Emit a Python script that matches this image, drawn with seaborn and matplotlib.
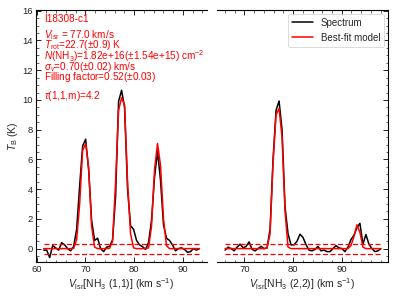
import numpy as np
import pandas as pd
import matplotlib
matplotlib.use("Agg")
import matplotlib.pyplot as plt
from matplotlib.ticker import AutoMinorLocator, MultipleLocator
import seaborn as sns

# ---------------- data ----------------
# NH3 (1,1) channel velocities (km/s): start + step
v11_start, v11_step, n11 = 61.44, 0.615, 53
T11_spec = [-0.1, -0.1, -0.6, 0.2, 0.05, -0.1, 0.4, 0.25, 0.0, -0.15,
            0.15, 1.3, 4.2, 6.9, 7.36, 5.3, 1.9, 0.55, 0.7, 0.0,
            -0.2, 0.1, 0.15, 0.6, 3.5, 9.9, 10.65, 9.5, 4.0, 1.55,
            1.3, 0.55, 0.25, 0.13, -0.05, 0.4, 1.9, 4.8, 6.55, 4.6,
            1.6, 0.7, 0.55, 0.25, -0.15, 0.0, 0.05, -0.05, -0.25, -0.2,
            0.0, -0.1, 0.0]
T11_model = [0.0, 0.0, 0.0, 0.0, 0.0, 0.0, 0.0, 0.0, 0.0, 0.0,
             0.02, 0.6, 3.0, 6.6, 7.07, 5.5, 1.5, 0.1, 0.0, 0.0,
             0.0, 0.0, 0.02, 0.5, 4.5, 9.3, 10.15, 9.65, 4.5, 1.0,
             0.05, 0.0, 0.0, 0.0, 0.0, 0.05, 1.5, 5.3, 7.07, 5.6,
             2.0, 0.2, 0.0, 0.0, 0.0, 0.0, 0.0, 0.0, 0.0, 0.0,
             0.0, 0.0, 0.0]

# NH3 (2,2)
v22_start, v22_step, n22 = 66.06, 0.615, 53
T22_spec = [-0.1, 0.1, 0.0, -0.15, 0.1, 0.3, 0.05, 0.15, 0.45, -0.05,
            -0.15, 0.0, 0.15, 0.0, 0.05, 1.3, 6.0, 9.3, 9.93, 8.0,
            2.8, 1.0, 0.25, 0.25, 0.5, 0.97, 0.75, 0.27, -0.1, -0.15,
            -0.05, 0.15, -0.15, -0.1, -0.2, -0.2, 0.0, 0.2, 0.05, 0.0,
            -0.2, 0.1, 0.6, 0.9, 1.4, 1.7, 0.3, 0.95, 0.3, 0.0,
            -0.2, -0.15, 0.0]
T22_model = [0.0, 0.0, 0.0, 0.0, 0.0, 0.0, 0.0, 0.0, 0.0, 0.0,
             0.0, 0.0, 0.0, 0.0, 0.05, 1.0, 5.8, 9.0, 9.42, 7.5,
             2.5, 0.1, 0.0, 0.0, 0.0, 0.0, 0.0, 0.0, 0.0, 0.0,
             0.0, 0.0, 0.0, 0.0, 0.0, 0.0, 0.0, 0.0, 0.0, 0.0,
             0.0, 0.0, 0.2, 0.8, 1.6, 1.1, 0.1, 0.0, 0.0, 0.0,
             0.0, 0.0, 0.0]

rms_level = 0.33

info_lines = [
    "I18308-c1",
    r"$V_{\rm lsr}$ = 77.0 km/s",
    r"$T_{\rm rot}$=22.7($\pm$0.9) K",
    r"$N$(NH$_3$)=1.82e+16($\pm$1.54e+15) cm$^{-2}$",
    r"$\sigma_v$=0.70($\pm$0.02) km/s",
    "Filling factor=0.52($\\pm$0.03)",
    r"$\tau$(1,1,m)=4.2",
]
xlabels = [r"$V_{\rm lsr}$[NH$_3$ (1,1)] (km s$^{-1}$)",
           r"$V_{\rm lsr}$[NH$_3$ (2,2)] (km s$^{-1}$)"]

# ---------------- style ----------------
sns.set_theme(style="ticks")
plt.rcParams.update({
    "font.family": ["Liberation Sans", "DejaVu Sans"],
    "mathtext.fontset": "custom",
    "mathtext.rm": "Liberation Sans",
    "mathtext.it": "Liberation Sans:italic",
    "mathtext.bf": "Liberation Sans:bold",
    "xtick.direction": "in",
    "ytick.direction": "in",
    "axes.linewidth": 0.8,
    "axes.edgecolor": "black",
})

v11 = np.round(v11_start + v11_step * np.arange(n11), 3)
v22 = np.round(v22_start + v22_step * np.arange(n22), 3)
df11 = pd.DataFrame({"v": v11, "spec": T11_spec, "model": T11_model})
df22 = pd.DataFrame({"v": v22, "spec": T22_spec, "model": T22_model})

fig = plt.figure(figsize=(3.99, 2.99), dpi=100)
axL = fig.add_axes([36/399, 37/299, 171/399, 252/299])
axR = fig.add_axes([217/399, 37/299, 171/399, 252/299])

for ax, df, xlim, xl in [(axL, df11, (59.86, 94.97), xlabels[0]),
                         (axR, df22, (64.39, 99.5), xlabels[1])]:
    sns.lineplot(data=df, x="v", y="spec", ax=ax, color="black", lw=1.1,
                 estimator=None, sort=False, label="Spectrum")
    sns.lineplot(data=df, x="v", y="model", ax=ax, color="red", lw=1.1,
                 estimator=None, sort=False, label="Best-fit model")
    vmin, vmax = df["v"].min(), df["v"].max()
    ax.hlines([rms_level, -rms_level], vmin, vmax, colors="red",
              linestyles=(0, (4, 2)), lw=0.9)
    ax.set_xlim(*xlim)
    ax.set_ylim(-0.9, 16.05)
    ax.set_xlabel(xl, fontsize=7.5, labelpad=2)
    ax.xaxis.set_major_locator(MultipleLocator(10))
    ax.xaxis.set_minor_locator(AutoMinorLocator(5))
    ax.yaxis.set_major_locator(MultipleLocator(2))
    ax.yaxis.set_minor_locator(AutoMinorLocator(4))
    ax.tick_params(axis="both", which="major", labelsize=6.8, length=3.5,
                   width=0.7, pad=2, top=True)
    ax.tick_params(axis="both", which="minor", length=1.8, width=0.5, top=True)

axL.spines["right"].set_visible(False)
axL.tick_params(axis="y", which="both", left=True, right=False)
axL.set_ylabel(r"$T_{\rm B}$ (K)", fontsize=7.5, labelpad=2)
axL.get_legend().remove()

axR.spines["left"].set_visible(False)
axR.tick_params(axis="y", which="both", left=False, right=True,
                labelleft=False, labelright=False)
axR.set_ylabel("")
leg = axR.legend(loc="upper right", fontsize=7, frameon=True,
                 borderaxespad=0.4, handlelength=2.2, fancybox=True)
leg.get_frame().set_edgecolor("#cccccc")
leg.get_frame().set_linewidth(0.6)

ys_px = [19, 35, 45.5, 56, 66.5, 77.5, 96]
for txt, yp in zip(info_lines, ys_px):
    axL.text(0.046, (262 - yp) / 252, txt, transform=axL.transAxes,
             color="red", fontsize=7.2, va="center", ha="left")

fig.savefig("out.png", dpi=100)
